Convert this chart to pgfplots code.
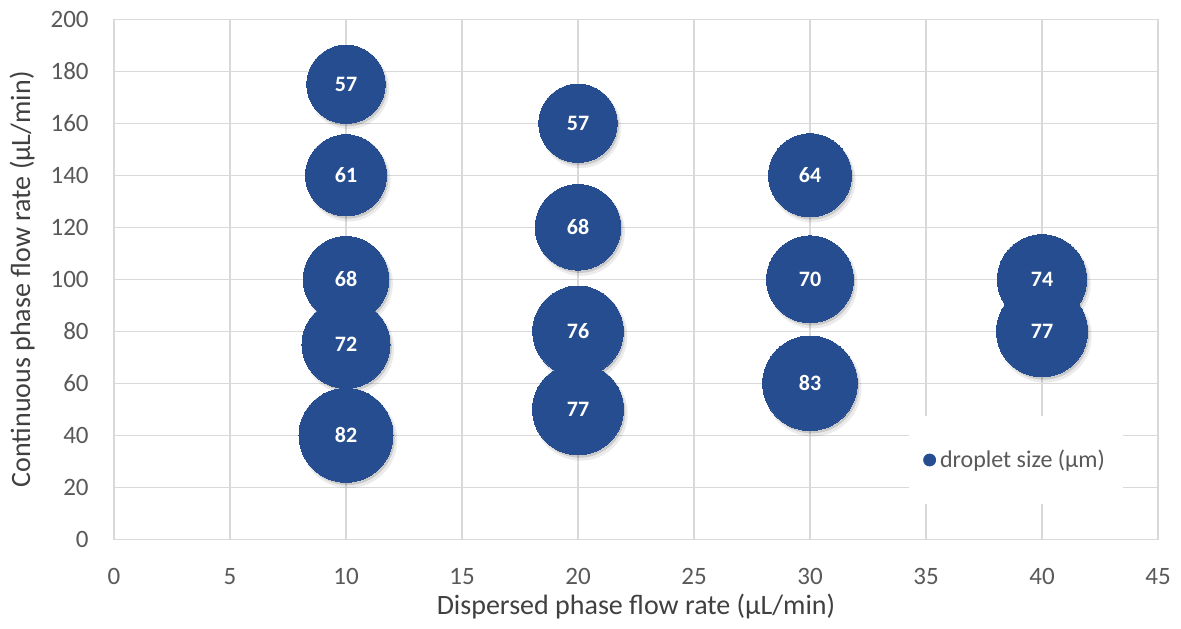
\documentclass[border=0pt]{standalone}
\usepackage{fontspec}
\setmainfont{Carlito}
\usepackage{pgfplots}
\pgfplotsset{compat=1.18}
\definecolor{bub}{RGB}{37,77,143}
\definecolor{gridc}{RGB}{217,217,217}
\definecolor{tickc}{RGB}{89,89,89}
\definecolor{labc}{RGB}{64,64,64}

% #1 x, #2 y, #3 droplet size (label), #4 bubble radius in pt (area proportional to size)
\newcommand\bubble[4]{%
  \addplot[forget plot, only marks, mark=*, mark size=#4pt, black, draw opacity=0,
    mark options={fill=black, fill opacity=0.08, draw opacity=0, xshift=1.4pt, yshift=-2.2pt, scale=1.03}]
    coordinates {(#1,#2)};
  \addplot[forget plot, only marks, mark=*, mark size=#4pt, black, draw opacity=0,
    mark options={fill=black, fill opacity=0.14, draw opacity=0, xshift=0.9pt, yshift=-1.4pt}]
    coordinates {(#1,#2)};
  \addplot[forget plot, only marks, mark=*, mark size=#4pt, bub,
    mark options={draw=bub, fill=bub, line width=0pt},
    point meta=explicit symbolic, nodes near coords,
    nodes near coords style={anchor=center, text=white, font=\bfseries\fontsize{11}{12}\selectfont}]
    coordinates {(#1,#2) [#3]};
}

\begin{document}
\begin{tikzpicture}
\useasboundingbox (-57pt,-44.35pt) rectangle (533.5pt,269.65pt);
\begin{axis}[
  at={(0,0)}, anchor=south west,
  scale only axis, width=522pt, height=260pt,
  xmin=0, xmax=45, ymin=0, ymax=200,
  xtick={0,5,...,45}, ytick={0,20,...,200},
  grid=major,
  major grid style={gridc, line width=0.65pt},
  axis line style={gridc, line width=0.65pt},
  major tick length=0pt,
  /pgf/number format/assume math mode=true,
  tick label style={font=\fontsize{12.5}{14}\selectfont, text=tickc},
  yticklabel style={anchor=east, inner sep=0pt, xshift=-12.5pt},
  xticklabel style={anchor=center, inner sep=0pt, yshift=-18.5pt},
  xlabel={Dispersed phase flow rate (µL/min)},
  ylabel={Continuous phase flow rate (µL/min)},
  every axis x label/.style={at={(axis description cs:0.5,-0.1283)}, anchor=center, font=\fontsize{14}{16}\selectfont, text=labc},
  every axis y label/.style={at={(axis description cs:-0.0881,0.5)}, anchor=center, rotate=90, font=\fontsize{14}{16}\selectfont, text=labc},
  legend style={at={(axis description cs:0.864,0.1525)}, anchor=center, draw=none, fill=white,
    font=\fontsize{12}{14}\selectfont, text=tickc, inner xsep=7pt, inner ysep=15pt},
  legend cell align=left,
  clip=false,
]
\bubble{10}{175}{57}{19.59}
\bubble{10}{140}{61}{20.27}
\bubble{10}{100}{68}{21.40}
\bubble{10}{75}{72}{22.02}
\bubble{10}{40}{82}{23.50}
\bubble{20}{160}{57}{19.59}
\bubble{20}{120}{68}{21.40}
\bubble{20}{80}{76}{22.62}
\bubble{20}{50}{77}{22.77}
\bubble{30}{140}{64}{20.76}
\bubble{30}{100}{70}{21.71}
\bubble{30}{60}{83}{23.64}
\bubble{40}{100}{74}{22.32}
\bubble{40}{80}{77}{22.77}
\addlegendimage{legend image code/.code={\fill[bub] (0.25em,0pt) circle (3pt);}}
\addlegendentry{droplet size (µm)}
\end{axis}
\end{tikzpicture}
\end{document}
